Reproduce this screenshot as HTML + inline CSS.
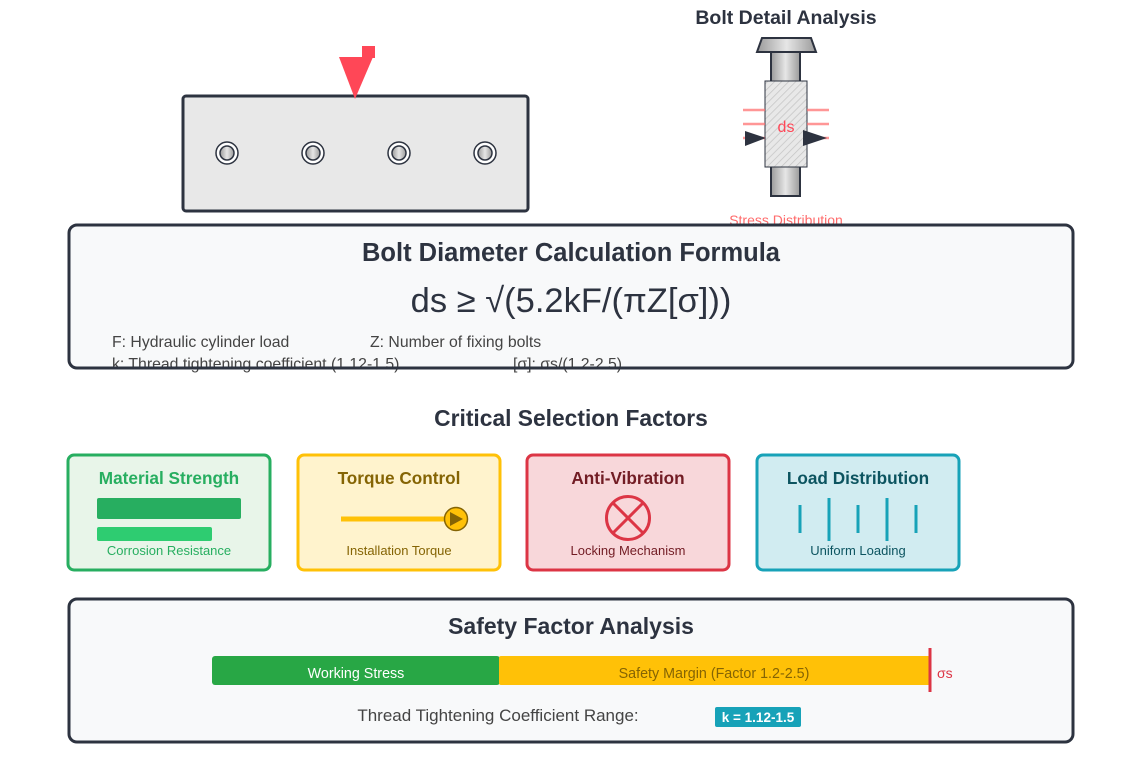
<!DOCTYPE html>
<html><head><meta charset="utf-8"><style>html,body{margin:0;padding:0;background:#fff}svg{display:block}text{font-family:"Liberation Sans",Arial,sans-serif}</style></head>
<body>
<svg width="1140" height="767" viewBox="0 0 1140 767" xmlns="http://www.w3.org/2000/svg">
<defs>
<linearGradient id="g" x1="0" x2="1" y1="0" y2="0"><stop offset="0" stop-color="#9a9a9a"/><stop offset="0.5" stop-color="#e6e6e6"/><stop offset="1" stop-color="#9a9a9a"/></linearGradient>
<pattern id="h" width="5" height="5" patternUnits="userSpaceOnUse" patternTransform="rotate(45)"><rect width="5" height="5" fill="#e8e8e8"/><line x1="0" y1="0" x2="0" y2="5" stroke="#c4c4c4" stroke-width="1.5"/></pattern>
</defs>
<rect x="183" y="96" width="345" height="115" rx="3" fill="#e8e8e8" stroke="#2d3340" stroke-width="3"/>
<g stroke="#2d3340" stroke-width="1.5">
<circle cx="227" cy="153" r="11" fill="#fff"/><circle cx="227" cy="153" r="7" fill="url(#g)"/>
<circle cx="313" cy="153" r="11" fill="#fff"/><circle cx="313" cy="153" r="7" fill="url(#g)"/>
<circle cx="399" cy="153" r="11" fill="#fff"/><circle cx="399" cy="153" r="7" fill="url(#g)"/>
<circle cx="485" cy="153" r="11" fill="#fff"/><circle cx="485" cy="153" r="7" fill="url(#g)"/>
</g>
<rect x="362" y="46" width="13" height="12" fill="#ff4757"/>
<polygon points="339,57 373,57 355,99" fill="#ff4757"/>
<text x="786" y="24" text-anchor="middle" font-size="19.5" font-weight="bold" fill="#2d3340">Bolt Detail Analysis</text>
<polygon points="762,38 811,38 816,52 757,52" fill="url(#g)" stroke="#2d3340" stroke-width="2"/>
<rect x="771" y="52" width="29" height="144" fill="url(#g)" stroke="#2d3340" stroke-width="2"/>
<rect x="765" y="81" width="42" height="86" fill="url(#h)" stroke="#2d3340" stroke-width="1"/>
<g stroke="#ff6b6b" stroke-width="2.5" opacity="0.7">
<line x1="743" y1="110" x2="765" y2="110"/><line x1="743" y1="124" x2="765" y2="124"/><line x1="743" y1="138" x2="765" y2="138"/>
<line x1="807" y1="110" x2="829" y2="110"/><line x1="807" y1="124" x2="829" y2="124"/><line x1="807" y1="138" x2="829" y2="138"/>
</g>
<polygon points="745,131 745,146 766,138" fill="#2d3340"/>
<polygon points="803,130 803,146 827,138" fill="#2d3340"/>
<text x="786" y="132" text-anchor="middle" font-size="16" fill="#ff4757">ds</text>
<text x="786" y="225" text-anchor="middle" font-size="14" fill="#ff6b6b">Stress Distribution</text>
<rect x="69" y="225" width="1004" height="143" rx="8" fill="#f8f9fa" stroke="#2d3340" stroke-width="3"/>
<text x="571" y="261" text-anchor="middle" font-size="25.5" font-weight="bold" fill="#2d3340">Bolt Diameter Calculation Formula</text>
<text x="571" y="312" text-anchor="middle" font-size="34.5" fill="#2d3340">ds ≥ √(5.2kF/(πZ[σ]))</text>
<text x="112" y="347" font-size="15.8" fill="#444">F: Hydraulic cylinder load</text>
<text x="370" y="347" font-size="15.8" fill="#444">Z: Number of fixing bolts</text>
<text x="112" y="369" font-size="15.8" fill="#444">k: Thread tightening coefficient (1.12-1.5)</text>
<text x="513" y="369" font-size="15.8" fill="#444">[σ]: σs/(1.2-2.5)</text>
<line x1="80" y1="368" x2="1062" y2="368" stroke="#2d3340" stroke-width="3"/>
<text x="571" y="426" text-anchor="middle" font-size="22.8" font-weight="bold" fill="#2d3340">Critical Selection Factors</text>
<rect x="68" y="455" width="202" height="115" rx="6" fill="#e8f5e9" stroke="#27ae60" stroke-width="3"/>
<text x="169" y="484" text-anchor="middle" font-size="17.2" font-weight="bold" fill="#27ae60">Material Strength</text>
<rect x="97" y="498" width="144" height="21" rx="2" fill="#27ae60"/>
<rect x="97" y="527" width="115" height="14" rx="2" fill="#2ecc71"/>
<text x="169" y="555" text-anchor="middle" font-size="13" fill="#27ae60">Corrosion Resistance</text>
<rect x="298" y="455" width="202" height="115" rx="6" fill="#fff3cd" stroke="#ffc107" stroke-width="3"/>
<text x="399" y="484" text-anchor="middle" font-size="17.2" font-weight="bold" fill="#856404">Torque Control</text>
<line x1="341" y1="519" x2="450" y2="519" stroke="#ffc107" stroke-width="5"/>
<circle cx="456" cy="519" r="11.5" fill="#ffc107" stroke="#856404" stroke-width="1.5"/>
<polygon points="450,512 450,526 463,519" fill="#856404"/>
<text x="399" y="555" text-anchor="middle" font-size="13" fill="#856404">Installation Torque</text>
<rect x="527" y="455" width="202" height="115" rx="6" fill="#f8d7da" stroke="#dc3545" stroke-width="3"/>
<text x="628" y="484" text-anchor="middle" font-size="17.2" font-weight="bold" fill="#721c24">Anti-Vibration</text>
<circle cx="628" cy="518" r="21.5" fill="none" stroke="#dc3545" stroke-width="3"/>
<line x1="613" y1="503" x2="643" y2="533" stroke="#dc3545" stroke-width="3"/>
<line x1="643" y1="503" x2="613" y2="533" stroke="#dc3545" stroke-width="3"/>
<text x="628" y="555" text-anchor="middle" font-size="13" fill="#721c24">Locking Mechanism</text>
<rect x="757" y="455" width="202" height="115" rx="6" fill="#d1ecf1" stroke="#17a2b8" stroke-width="3"/>
<text x="858" y="484" text-anchor="middle" font-size="17.2" font-weight="bold" fill="#0c5460">Load Distribution</text>
<g stroke="#17a2b8" stroke-width="3">
<line x1="800" y1="505" x2="800" y2="533"/><line x1="829" y1="498" x2="829" y2="541"/><line x1="858" y1="505" x2="858" y2="533"/><line x1="887" y1="498" x2="887" y2="541"/><line x1="916" y1="505" x2="916" y2="533"/>
</g>
<text x="858" y="555" text-anchor="middle" font-size="13" fill="#0c5460">Uniform Loading</text>
<rect x="69" y="599" width="1004" height="143" rx="8" fill="#f8f9fa" stroke="#2d3340" stroke-width="3"/>
<text x="571" y="634" text-anchor="middle" font-size="23" font-weight="bold" fill="#2d3340">Safety Factor Analysis</text>
<rect x="212" y="656" width="288" height="29" rx="3" fill="#28a745"/>
<rect x="499" y="656" width="431" height="29" rx="2" fill="#ffc107"/>
<line x1="930" y1="648" x2="930" y2="692" stroke="#dc3545" stroke-width="3"/>
<text x="356" y="678" text-anchor="middle" font-size="14.3" fill="#fff">Working Stress</text>
<text x="714" y="678" text-anchor="middle" font-size="14.3" fill="#856404">Safety Margin (Factor 1.2-2.5)</text>
<text x="937" y="678" font-size="14" fill="#dc3545">σs</text>
<text x="498" y="721" text-anchor="middle" font-size="17" fill="#444">Thread Tightening Coefficient Range:</text>
<rect x="715" y="707" width="86" height="20" rx="2" fill="#17a2b8"/>
<text x="758" y="722" text-anchor="middle" font-size="13.5" font-weight="bold" fill="#fff">k = 1.12-1.5</text>
</svg>
</body></html>
